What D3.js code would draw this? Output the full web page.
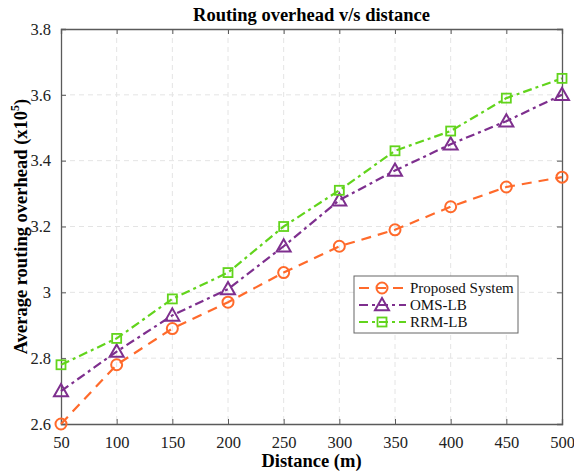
<!DOCTYPE html>
<html>
<head>
<meta charset="utf-8">
<script src="https://cdn.jsdelivr.net/npm/d3@7"></script>
<style>
  body { margin: 0; background: #fff; }
  svg { display: block; }
  text { font-family: "Liberation Serif", "Times New Roman", serif; }
</style>
</head>
<body>
<svg id="chart" width="574" height="473"></svg>
<script>
// Routing overhead (x10^5) against node distance
const distances = [50, 100, 150, 200, 250, 300, 350, 400, 450, 500];
const proposed = [2.60, 2.78, 2.89, 2.97, 3.06, 3.14, 3.19, 3.26, 3.32, 3.35];
const omsLb    = [2.70, 2.82, 2.93, 3.01, 3.14, 3.28, 3.37, 3.45, 3.52, 3.60];
const rrmLb    = [2.78, 2.86, 2.98, 3.06, 3.20, 3.31, 3.43, 3.49, 3.59, 3.65];
const seriesNames = ["Proposed System", "OMS-LB", "RRM-LB"];
const yTicks = [2.6, 2.8, 3.0, 3.2, 3.4, 3.6, 3.8];
const xTicks = distances;

const margin = { left: 61, right: 12, top: 29, bottom: 49 };
const W = 574, H = 473;
const svg = d3.select("#chart");

const x = d3.scaleLinear().domain([50, 500]).range([margin.left, W - margin.right]);
const y = d3.scaleLinear().domain([2.6, 3.8]).range([H - margin.bottom, margin.top]);

const axisColor = "#5a5a5a";

// dashed grid
const grid = svg.append("g");
grid.selectAll(".gx").data(xTicks.slice(1, -1)).join("line")
  .attr("x1", d => x(d)).attr("x2", d => x(d))
  .attr("y1", y(3.8)).attr("y2", y(2.6))
  .attr("stroke", "#e4e4e4").attr("stroke-width", 1).attr("stroke-dasharray", "5,4");
grid.selectAll(".gy").data(yTicks.slice(1, -1)).join("line")
  .attr("x1", x(50)).attr("x2", x(500))
  .attr("y1", d => y(d)).attr("y2", d => y(d))
  .attr("stroke", "#e4e4e4").attr("stroke-width", 1).attr("stroke-dasharray", "5,4");

// axes with inward ticks on all four sides
const tickLen = -5;
const fmtY = d => d === 3 ? "3" : d3.format(".1f")(d);
const gB = svg.append("g").attr("transform", `translate(0,${y(2.6)})`)
  .call(d3.axisBottom(x).tickValues(xTicks).tickSize(tickLen).tickPadding(12).tickFormat(d3.format("d")));
const gT = svg.append("g").attr("transform", `translate(0,${y(3.8)})`)
  .call(d3.axisTop(x).tickValues(xTicks).tickSize(tickLen).tickFormat(""));
const gL = svg.append("g").attr("transform", `translate(${x(50)},0)`)
  .call(d3.axisLeft(y).tickValues(yTicks).tickSize(tickLen).tickPadding(10).tickFormat(fmtY));
const gR = svg.append("g").attr("transform", `translate(${x(500)},0)`)
  .call(d3.axisRight(y).tickValues(yTicks).tickSize(tickLen).tickFormat(""));
[gB, gT, gL, gR].forEach(g => {
  g.select(".domain").attr("stroke", axisColor).attr("stroke-width", 1.3);
  g.selectAll(".tick line").attr("stroke", axisColor).attr("stroke-width", 1);
  g.selectAll(".tick text").attr("fill", "#222").style("font-size", "16.5px")
    .style("font-family", "'Liberation Serif', serif");
});

// series
const series = [
  { name: seriesNames[0], values: proposed, color: "#ff6a2b", dash: "10,7", marker: "circle" },
  { name: seriesNames[1], values: omsLb,    color: "#7e2f8e", dash: "9,4,3,4", marker: "triangle" },
  { name: seriesNames[2], values: rrmLb,    color: "#62d41c", dash: "9,4,3,4", marker: "square" }
];

const line = d3.line().x((d, i) => x(distances[i])).y(d => y(d));

function drawMarker(g, type, cx, cy, color) {
  if (type === "circle") {
    g.append("circle").attr("cx", cx).attr("cy", cy).attr("r", 5.5)
      .attr("fill", "none").attr("stroke", color).attr("stroke-width", 2);
  } else if (type === "triangle") {
    const s = 7;
    g.append("path")
      .attr("d", `M${cx},${cy - s} L${cx + s},${cy + s * 0.75} L${cx - s},${cy + s * 0.75} Z`)
      .attr("fill", "none").attr("stroke", color).attr("stroke-width", 2);
  } else {
    const s = 4.5;
    g.append("rect").attr("x", cx - s).attr("y", cy - s).attr("width", 2 * s).attr("height", 2 * s)
      .attr("fill", "none").attr("stroke", color).attr("stroke-width", 1.8);
  }
}

series.forEach(s => {
  svg.append("path").datum(s.values).attr("d", line)
    .attr("fill", "none").attr("stroke", s.color).attr("stroke-width", 2.2)
    .attr("stroke-dasharray", s.dash);
  const gm = svg.append("g");
  s.values.forEach((v, i) => drawMarker(gm, s.marker, x(distances[i]), y(v), s.color));
});

// legend
const lg = svg.append("g").attr("transform", "translate(354,276)");
lg.append("rect").attr("width", 164).attr("height", 57)
  .attr("fill", "#fff").attr("stroke", "#666").attr("stroke-width", 1);
series.forEach((s, i) => {
  const ly = 12 + i * 17;
  lg.append("line").attr("x1", 5).attr("x2", 52).attr("y1", ly).attr("y2", ly)
    .attr("stroke", s.color).attr("stroke-width", 2).attr("stroke-dasharray", s.dash);
  drawMarker(lg, s.marker, 28, ly, s.color);
  lg.append("text").attr("x", 56).attr("y", ly + 5).text(s.name)
    .style("font-size", "15px").attr("fill", "#111");
});

// titles
svg.append("text").attr("x", (x(50) + x(500)) / 2).attr("y", 21)
  .attr("text-anchor", "middle").style("font-size", "18.5px").style("font-weight", "bold")
  .text("Routing overhead v/s distance");
svg.append("text").attr("x", (x(50) + x(500)) / 2).attr("y", 467)
  .attr("text-anchor", "middle").style("font-size", "18.5px").style("font-weight", "bold")
  .text("Distance (m)");
const yl = svg.append("text")
  .attr("transform", `translate(27,${(y(2.6) + y(3.8)) / 2}) rotate(-90)`)
  .attr("text-anchor", "middle").style("font-size", "18.5px").style("font-weight", "bold");
yl.append("tspan").text("Average routing overhead (x10");
yl.append("tspan").attr("dy", -8).style("font-size", "12px").text("5");
yl.append("tspan").attr("dy", 8).text(")");
</script>
</body>
</html>
